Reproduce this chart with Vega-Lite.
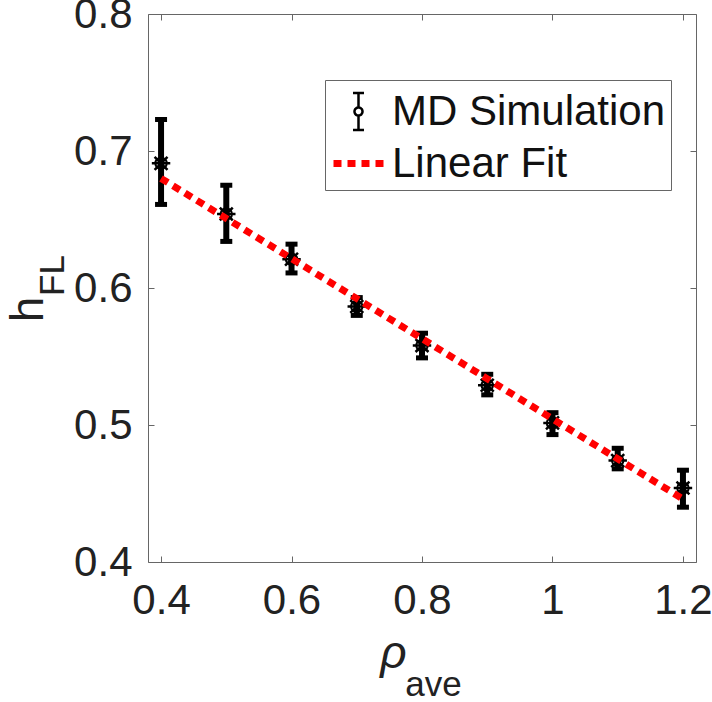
{
  "$schema": "https://vega.github.io/schema/vega-lite/v6.json",
  "width": 548,
  "height": 548,
  "autosize": {"type": "none"},
  "padding": {"left": 148, "top": 14, "right": 16, "bottom": 140},
  "background": "white",
  "config": {
    "view": {"stroke": "#666", "strokeWidth": 1},
    "font": "Liberation Sans",
    "axis": {"grid": false, "domain": false, "tickColor": "#666", "tickSize": -6, "tickWidth": 1, "labelFont": "Liberation Sans", "labelFontSize": 42, "labelColor": "#222", "titleFont": "Liberation Sans", "titleColor": "#222", "titleFontWeight": "normal"}
  },
  "datasets": {
    "md": [
      {"x": 0.4, "y": 0.691, "lo": 0.661, "hi": 0.723, "series": "MD Simulation"},
      {"x": 0.5, "y": 0.654, "lo": 0.634, "hi": 0.675, "series": "MD Simulation"},
      {"x": 0.6, "y": 0.621, "lo": 0.611, "hi": 0.632, "series": "MD Simulation"},
      {"x": 0.7, "y": 0.5865, "lo": 0.58, "hi": 0.593, "series": "MD Simulation"},
      {"x": 0.8, "y": 0.558, "lo": 0.549, "hi": 0.567, "series": "MD Simulation"},
      {"x": 0.9, "y": 0.529, "lo": 0.522, "hi": 0.537, "series": "MD Simulation"},
      {"x": 1.0, "y": 0.5015, "lo": 0.493, "hi": 0.509, "series": "MD Simulation"},
      {"x": 1.1, "y": 0.474, "lo": 0.468, "hi": 0.483, "series": "MD Simulation"},
      {"x": 1.2, "y": 0.454, "lo": 0.44, "hi": 0.467, "series": "MD Simulation"}
    ],
    "fit": [
      {"x": 0.4, "y": 0.68, "series": "Linear Fit"},
      {"x": 1.2, "y": 0.446, "series": "Linear Fit"}
    ]
  },
  "resolve": {"axis": {"x": "independent", "y": "independent"}},
  "layer": [
    {
      "data": {"name": "md"},
      "mark": {"type": "rule", "color": "black", "strokeWidth": 6},
      "encoding": {
        "x": {"field": "x", "type": "quantitative", "scale": {"domain": [0.38, 1.22], "nice": false, "zero": false},
          "axis": {"orient": "bottom", "values": [0.4, 0.6, 0.8, 1, 1.2], "format": "~g", "labelPadding": 24, "title": "ρ", "titleFontStyle": "italic", "titleFontSize": 46, "titleX": 245, "titleY": 105, "titleBaseline": "alphabetic", "titleAlign": "center"}},
        "y": {"field": "lo", "type": "quantitative", "scale": {"domain": [0.4, 0.8], "nice": false, "zero": false},
          "axis": {"orient": "left", "values": [0.4, 0.5, 0.6, 0.7, 0.8], "format": "~g", "labelPadding": 22, "title": "h", "titleFontSize": 46, "titleAngle": 270, "titleX": -106, "titleY": 295, "titleBaseline": "alphabetic", "titleAlign": "center"}},
        "y2": {"field": "hi"}
      }
    },
    {
      "data": {"name": "md"},
      "mark": {"type": "tick", "orient": "horizontal", "color": "black", "opacity": 1, "size": 12, "thickness": 5},
      "encoding": {
        "x": {"field": "x", "type": "quantitative", "axis": null},
        "y": {"field": "lo", "type": "quantitative", "axis": null}
      }
    },
    {
      "data": {"name": "md"},
      "mark": {"type": "tick", "orient": "horizontal", "color": "black", "opacity": 1, "size": 12, "thickness": 5},
      "encoding": {
        "x": {"field": "x", "type": "quantitative", "axis": null},
        "y": {"field": "hi", "type": "quantitative", "axis": null}
      }
    },
    {
      "data": {"name": "md"},
      "mark": {"type": "point", "shape": "circle", "filled": false, "color": "black", "strokeWidth": 2, "size": 130, "opacity": 1},
      "encoding": {
        "x": {"field": "x", "type": "quantitative", "axis": null},
        "y": {"field": "y", "type": "quantitative", "axis": null}
      }
    },
    {
      "data": {"name": "md"},
      "mark": {"type": "point", "shape": "M-1,0L1,0M0,-1L0,1M-0.7,-0.7L0.7,0.7M-0.7,0.7L0.7,-0.7", "filled": false, "color": "black", "strokeWidth": 2.5, "size": 340, "opacity": 1},
      "encoding": {
        "x": {"field": "x", "type": "quantitative", "axis": null},
        "y": {"field": "y", "type": "quantitative", "axis": null}
      }
    },
    {
      "data": {"name": "fit"},
      "mark": {"type": "line", "color": "red", "strokeWidth": 7, "strokeDash": [8, 6]},
      "encoding": {
        "x": {"field": "x", "type": "quantitative",
          "axis": {"orient": "top", "values": [0.4, 0.6, 0.8, 1, 1.2], "labels": false, "title": "ave", "titleFontSize": 35, "titleX": 285, "titleY": 681, "titleBaseline": "alphabetic", "titleAlign": "center"}},
        "y": {"field": "y", "type": "quantitative",
          "axis": {"orient": "right", "values": [0.4, 0.5, 0.6, 0.7, 0.8], "labels": false, "title": "FL", "titleFontSize": 35, "titleAngle": 270, "titleX": -633, "titleY": 261, "titleBaseline": "alphabetic", "titleAlign": "center"}}
      }
    },
    {
      "data": {"name": "md"},
      "mark": {"type": "point", "filled": false, "opacity": 0},
      "encoding": {
        "x": {"field": "x", "type": "quantitative", "axis": null},
        "y": {"field": "y", "type": "quantitative", "axis": null},
        "color": {"field": "series", "type": "nominal", "scale": {"domain": ["MD Simulation", "Linear Fit"], "range": ["black", "red"]},
          "legend": {"orient": "none", "legendX": 177, "legendY": 66, "title": null, "padding": 5, "strokeColor": "#666", "fillColor": "white", "symbolSize": 2500, "labelFontSize": 42, "labelFont": "Liberation Sans", "labelColor": "#111", "labelOffset": 5, "rowPadding": 0, "labelLimit": 400,
            "encode": {"symbols": {"update": {"opacity": {"value": 1}}}}}},
        "shape": {"field": "series", "type": "nominal", "scale": {"domain": ["MD Simulation", "Linear Fit"], "range": ["M0,-0.74L0,-0.16M0,0.16L0,0.74M-0.22,-0.74L0.22,-0.74M-0.22,0.74L0.22,0.74M0.16,0A0.16,0.16 0 1,1 -0.16,0A0.16,0.16 0 1,1 0.16,0", "M-1,0L1,0"]}},
        "strokeDash": {"field": "series", "type": "nominal", "scale": {"domain": ["MD Simulation", "Linear Fit"], "range": [[1, 0], [8, 6]]}},
        "strokeWidth": {"field": "series", "type": "ordinal", "scale": {"domain": ["MD Simulation", "Linear Fit"], "range": [2.5, 7]}}
      }
    }
  ]
}
